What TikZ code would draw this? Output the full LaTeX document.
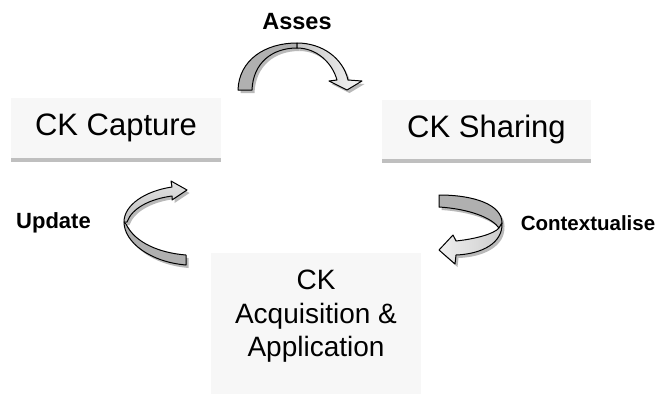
\documentclass[tikz,border=0pt]{standalone}
\usepackage{fontspec}
\setmainfont{Liberation Sans}
\definecolor{boxfill}{HTML}{F7F7F7}
\begin{document}
\begin{tikzpicture}[x=1pt,y=-1pt,
  box/.style={fill=boxfill, draw=none, inner sep=0pt},
  strip/.style={fill=gray!50, draw=none},
  boxtext/.style={font=\fontsize{31}{37}\selectfont},
  lbl/.style={font=\bfseries\fontsize{#1}{#1}\selectfont, inner sep=0pt},
  shadowfill/.style={fill=gray!55, draw=none},
  edge/.style={draw=black, line width=1pt, line join=round},
  darkband/.style={edge, fill=gray!62},
  lightband/.style={edge, left color=gray!45, right color=gray!8}
]
\useasboundingbox (0,0) rectangle (656,394);

% ---------- boxes ----------
\node[box, boxtext, minimum width=210pt, minimum height=60pt] (cap) at (116,128) {CK Capture};
\node[box, boxtext, minimum width=209pt, minimum height=59pt] (shar) at (486.5,129.5) {CK Sharing};
\fill[strip] (cap.south west) rectangle ([yshift=-4pt]cap.south east);
\fill[strip] (shar.south west) rectangle ([yshift=-4pt]shar.south east);
\node[box, minimum width=210pt, minimum height=141pt] (acq) at (316,323.5) {};
\node[align=center, inner sep=0pt, font=\fontsize{28}{33.5}\selectfont] (acqtext) at (316,316.5) {CK\\Acquisition \&\\Application};

% ---------- labels ----------
\node[lbl=23.5] (asses) at (297,22) {Asses};
\node[lbl=22] (update) at (53.5,222.5) {Update};
\node[lbl=20.5] (context) at (588,223.5) {Contextualise};

% ---------- arrow paths ----------
\def\pAssesDark{(238,90) .. controls (239,60) and (265,43) .. (297,43) -- (297,48) .. controls (272,48) and (253,63) .. (252,90) -- cycle}
\def\pAssesLight{(297,43) .. controls (322,43) and (343,58) .. (348,80) -- (362,81) -- (347,90) -- (329,81) -- (337,80) .. controls (332,62) and (316,48) .. (297,48) -- cycle}
\def\pUpdLight{(172,187) .. controls (145,191) and (124,205) .. (124,222) -- (127,222) .. controls (132,208) and (150,199) .. (172,196) -- (172,200) -- (187,190) -- (171,181) -- cycle}
\def\pUpdDark{(124,222) .. controls (124,242) and (150,262) .. (186,265) -- (186,255) .. controls (160,253) and (135,243) .. (126,224) -- cycle}
\def\pCtxDark{(439,195) .. controls (475,195) and (502,205) .. (502,223) -- (499,228) .. controls (492,218) and (470,209) .. (439,207) -- cycle}
\def\pCtxLight{(502,223) .. controls (503,243) and (482,254) .. (456,255) -- (455,264) -- (439,250) -- (453,235) -- (456,241) .. controls (475,239) and (494,234) .. (499,228) -- cycle}

% ---------- shadows ----------
\begin{scope}[shift={(2.5,3)}]
  \path[shadowfill] \pAssesDark;
  \path[shadowfill] \pAssesLight;
  \path[shadowfill] \pUpdLight;
  \path[shadowfill] \pUpdDark;
  \path[shadowfill] \pCtxDark;
  \path[shadowfill] \pCtxLight;
\end{scope}

% ---------- arrows ----------
\path[darkband] \pAssesDark;
\path[lightband] \pAssesLight;
\path[darkband] \pUpdDark;
\path[edge, top color=gray!22, bottom color=gray!50] \pUpdLight;
\path[darkband] \pCtxDark;
\path[edge, left color=gray!12, right color=gray!40] \pCtxLight;
\end{tikzpicture}
\end{document}
